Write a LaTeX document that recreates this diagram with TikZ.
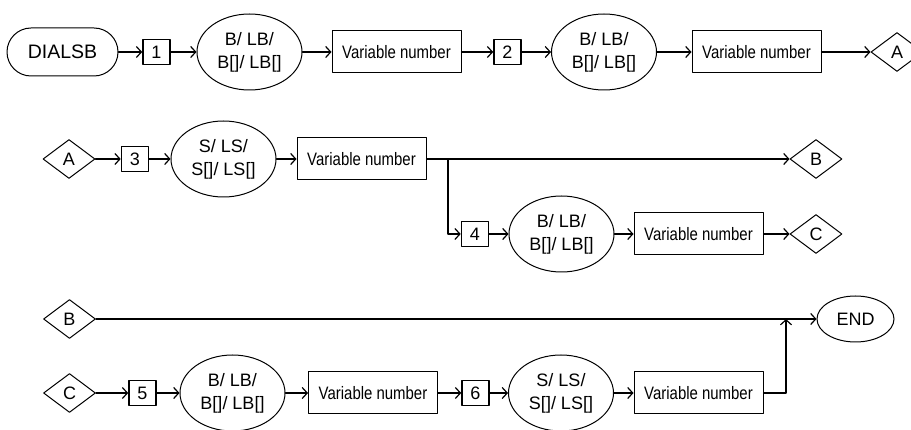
\documentclass[tikz,border=0pt]{standalone}
\usepackage{fontspec}
\setmainfont{Liberation Sans}
\newfontfamily\narrowsans{Liberation Sans}[FakeStretch=0.83]
\usetikzlibrary{shapes.geometric,arrows.meta}

\begin{document}
\begin{tikzpicture}[line cap=round,line join=round,x=1pt,y=-1pt,
    every node/.style={font=\fontsize{18}{23}\selectfont,inner sep=0pt},
    startend/.style={draw,line width=1pt,rounded corners=24pt,minimum width=111pt,minimum height=48pt,font=\fontsize{19.5}{23}\selectfont},
    numbox/.style={draw,line width=1.6pt,minimum width=27pt,minimum height=25pt},
    typeell/.style={draw,ellipse,line width=1pt,minimum width=105pt,minimum height=76pt,align=center},
    varbox/.style={draw,line width=1pt,minimum width=129pt,minimum height=42pt,font=\narrowsans\fontsize{18}{23}\selectfont},
    jump/.style={draw,diamond,line width=1pt,minimum width=52pt,minimum height=39pt},
    conn/.style={line width=1.2pt,-{Straight Barb[length=5pt,width=11pt]}}]
					\clip (0,0) rectangle (911,430);
					% first row
					\node[startend] (start) at (62.5,52) {DIALSB};
					\node[numbox] (n1) at (156.5,52) {1};
					\node[typeell] (e1) at (249.5,52) {B/ LB/\\B[]/ LB[]};
					\node[varbox] (v1) at (396.5,52) {Variable number};
					\node[numbox] (n2) at (507.5,52) {2};
					\node[typeell] (e2) at (604,52) {B/ LB/\\B[]/ LB[]};
					\node[varbox] (v2) at (756.5,52) {Variable number};
					\node[jump] (A1) at (897,52) {A};
					\draw[conn] (start) -- (n1);
					\draw[conn] (n1) -- (e1);
					\draw[conn] (e1) -- (v1);
					\draw[conn] (v1) -- (n2);
					\draw[conn] (n2) -- (e2);
					\draw[conn] (e2) -- (v2);
					\draw[conn] (v2) -- (A1);
					% second row
					\node[jump] (A2) at (69,159) {A};
					\node[numbox] (n3) at (135,159) {3};
					\node[typeell] (e3) at (223.5,159) {S/ LS/\\S[]/ LS[]};
					\node[varbox] (v3) at (361.5,159) {Variable number};
					\node[jump] (B1) at (816,159) {B};
					\draw[conn] (A2) -- (n3);
					\draw[conn] (n3) -- (e3);
					\draw[conn] (e3) -- (v3);
					\draw[conn] (v3) -- (B1);
					\coordinate (split) at (448,159);
					% branch row
					\node[numbox] (n4) at (475,234) {4};
					\node[typeell] (e4) at (561.5,234) {B/ LB/\\B[]/ LB[]};
					\node[varbox] (v4) at (698.5,234) {Variable number};
					\node[jump] (C1) at (816,234) {C};
					\draw[conn] (split) |- (n4);
					\draw[conn] (n4) -- (e4);
					\draw[conn] (e4) -- (v4);
					\draw[conn] (v4) -- (C1);
					% third row
					\node[jump] (B2) at (69.5,319) {B};
					\node[draw,ellipse,line width=1pt,minimum width=77pt,minimum height=46pt] (stop) at (855.5,319) {END};
					\draw[conn] (B2) -- (stop);
					% last row
					\node[jump] (C2) at (69.5,393) {C};
					\node[numbox] (n5) at (142.5,393) {5};
					\node[typeell] (e5) at (232.5,393) {B/ LB/\\B[]/ LB[]};
					\node[varbox] (v5) at (373,393) {Variable number};
					\node[numbox] (n6) at (475.5,393) {6};
					\node[typeell] (e6) at (561,393) {S/ LS/\\S[]/ LS[]};
					\node[varbox] (v6) at (698.5,393) {Variable number};
					\coordinate (merge) at (786,319);
					\draw[conn] (C2) -- (n5);
					\draw[conn] (n5) -- (e5);
					\draw[conn] (e5) -- (v5);
					\draw[conn] (v5) -- (n6);
					\draw[conn] (n6) -- (e6);
					\draw[conn] (e6) -- (v6);
					\draw[conn] (v6) -| (merge);
\end{tikzpicture}
\end{document}
